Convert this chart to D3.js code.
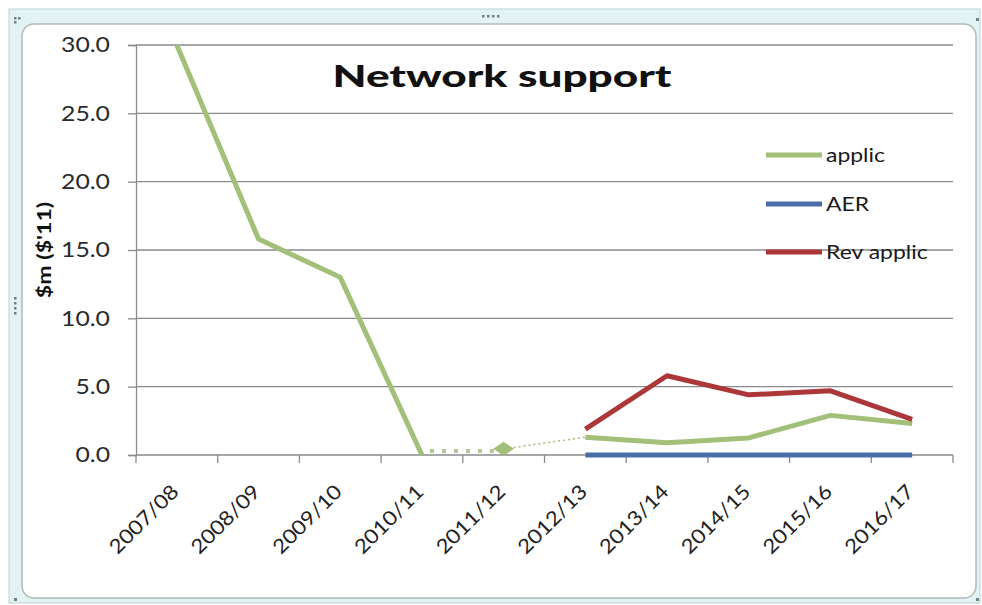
<!DOCTYPE html>
<html>
<head>
<meta charset="utf-8">
<script src="https://cdn.jsdelivr.net/npm/d3@7"></script>
<style>
  html, body { margin: 0; padding: 0; background: #ffffff; }
  svg { display: block; }
  text { font-family: Lato, "Open Sans", "DejaVu Sans", sans-serif; }
</style>
</head>
<body>
<svg id="chart" width="982" height="605"></svg>
<script>
// Financial years on the category axis
const categories = ['2007/08', '2008/09', '2009/10', '2010/11', '2011/12',
                    '2012/13', '2013/14', '2014/15', '2015/16', '2016/17'];

// Network support spend, $m ($'11)
const applic    = [30.0, 15.8, 13.0, 0.0, null, 1.3, 0.9, 1.25, 2.9, 2.3];
const aer       = [null, null, null, null, null, 0.0, 0.0, 0.0, 0.0, 0.0];
const revApplic = [null, null, null, null, null, 1.9, 5.8, 4.4, 4.7, 2.6];

// Estimated 2011/12 value and the dotted links either side of it
const estimate    = [null, null, null, null, 0.45, null, null, null, null, null];
const bridgeLeft  = [null, null, null, 0.3, 0.3, null, null, null, null, null];
const bridgeRight = [null, null, null, null, 0.45, 1.3, null, null, null, null];

const yTicks = [0, 5, 10, 15, 20, 25, 30];

const series = [
  { name: 'applic',     values: applic,    color: '#a2c07a' },
  { name: 'AER',        values: aer,       color: '#4a6fa8' },
  { name: 'Rev applic', values: revApplic, color: '#ac3739' }
];

// Widen glyphs horizontally by factor k (the chart's fonts are drawn stretched)
function stretch(sel, k) {
  sel.each(function () {
    const len = this.getComputedTextLength();
    d3.select(this).attr('textLength', len * k).attr('lengthAdjust', 'spacingAndGlyphs');
  });
}

const svg = d3.select('#chart');

// Worksheet frame and chart area
svg.append('rect').attr('x', 9).attr('y', 9).attr('width', 971).attr('height', 594)
  .attr('fill', '#e3f2f2').attr('stroke', '#bcd3d3');
svg.append('rect').attr('x', 22).attr('y', 24).attr('width', 954).attr('height', 574)
  .attr('rx', 12).attr('ry', 12)
  .attr('fill', '#ffffff').attr('stroke', '#b0baba').attr('stroke-width', 1.5);

// Resize handles
const handleG = svg.append('g').attr('fill', '#6f7f86');
[482, 487, 492, 497].forEach(x => handleG.append('rect').attr('x', x).attr('y', 15).attr('width', 2.5).attr('height', 2.5));
[297, 302, 307, 312].forEach(y => handleG.append('rect').attr('x', 14).attr('y', y).attr('width', 2.5).attr('height', 2.5));
[[14, 17], [18, 17], [14, 21]].forEach(([x, y]) => handleG.append('rect').attr('x', x).attr('y', y).attr('width', 2.5).attr('height', 2.5));
[[976, 18], [976, 598], [14, 598]].forEach(([x, y]) => handleG.append('rect').attr('x', x).attr('y', y).attr('width', 3).attr('height', 3));

const plot = { left: 136, right: 953, top: 45, bottom: 455 };

const x = d3.scaleBand().domain(categories).range([plot.left, plot.right]).paddingInner(0).paddingOuter(0);
const y = d3.scaleLinear().domain([0, 30]).range([plot.bottom, plot.top]);
const cx = c => x(c) + x.bandwidth() / 2;

// Horizontal gridlines
svg.append('g').selectAll('line').data(yTicks.filter(t => t > 0)).join('line')
  .attr('x1', plot.left).attr('x2', plot.right)
  .attr('y1', d => y(d)).attr('y2', d => y(d))
  .attr('stroke', '#8a8a8a').attr('stroke-width', 1.3);

// Y axis
const yAxis = svg.append('g').attr('transform', `translate(${plot.left},0)`)
  .call(d3.axisLeft(y).tickValues(yTicks).tickFormat(d3.format('.1f')).tickSize(8).tickPadding(18));
yAxis.select('.domain').attr('stroke', '#8a8a8a').attr('stroke-width', 1.3);
yAxis.selectAll('.tick line').attr('stroke', '#8a8a8a').attr('stroke-width', 1.3);
yAxis.selectAll('.tick text').attr('font-size', 21).attr('fill', '#2b2b2b')
  .attr('font-family', 'Lato, "Open Sans", sans-serif');
stretch(yAxis.selectAll('.tick text'), 1.18);

// X axis with ticks on category boundaries
const xAxisG = svg.append('g').attr('transform', `translate(0,${plot.bottom})`);
xAxisG.append('line').attr('x1', plot.left).attr('x2', plot.right)
  .attr('stroke', '#8a8a8a').attr('stroke-width', 1.3);
const boundaries = categories.map(c => x(c)).concat([plot.right]);
xAxisG.selectAll('line.tk').data(boundaries).join('line').attr('class', 'tk')
  .attr('x1', d => d).attr('x2', d => d).attr('y1', 0).attr('y2', 8)
  .attr('stroke', '#8a8a8a').attr('stroke-width', 1.3);
const xLabels = xAxisG.selectAll('text').data(categories).join('text')
  .attr('transform', d => `translate(${cx(d) + 3},${38}) rotate(-45)`)
  .attr('text-anchor', 'end')
  .attr('font-size', 20).attr('fill', '#222')
  .text(d => d);
stretch(xLabels, 1.12);

// Axis title
const yTitle = svg.append('text')
  .attr('transform', 'translate(51,250) rotate(-90)')
  .attr('text-anchor', 'middle')
  .attr('font-size', 19).attr('font-weight', 'bold').attr('fill', '#111')
  .text("$m ($'11)");
stretch(yTitle, 1.22);

// Chart title
const title = svg.append('text')
  .attr('x', 502).attr('y', 87)
  .attr('text-anchor', 'middle')
  .attr('font-size', 31).attr('font-weight', 900).attr('fill', '#111')
  .text('Network support');
title.attr('textLength', 339).attr('lengthAdjust', 'spacingAndGlyphs');

const line = d3.line()
  .defined(d => d.v !== null)
  .x(d => cx(d.c))
  .y(d => y(d.v));
const pts = vals => categories.map((c, i) => ({ c, v: vals[i] }));

// Dotted links around the 2011/12 estimate
svg.append('path').datum(pts(bridgeLeft))
  .attr('d', line).attr('fill', 'none')
  .attr('stroke', '#b3c79a').attr('stroke-width', 4).attr('stroke-dasharray', '4 8')
  .attr('stroke-dashoffset', -8);
svg.append('path').datum(pts(bridgeRight))
  .attr('d', line).attr('fill', 'none')
  .attr('stroke', '#a2c07a').attr('stroke-width', 1.5).attr('stroke-dasharray', '2 3');

// Series lines
series.forEach(s => {
  svg.append('path').datum(pts(s.values))
    .attr('d', line).attr('fill', 'none')
    .attr('stroke', s.color).attr('stroke-width', 5)
    .attr('stroke-linejoin', 'round').attr('stroke-linecap', 'butt');
});

// Estimate marker: a flattened diamond
const flatDiamond = {
  draw(ctx, size) {
    const w = Math.sqrt(size) * 0.7, h = w * 0.68;
    ctx.moveTo(0, -h); ctx.lineTo(w, 0); ctx.lineTo(0, h); ctx.lineTo(-w, 0); ctx.closePath();
  }
};
svg.append('g').selectAll('path').data(pts(estimate).filter(d => d.v !== null)).join('path')
  .attr('transform', d => `translate(${cx(d.c)},${y(d.v)})`)
  .attr('d', d3.symbol().type(flatDiamond).size(220))
  .attr('fill', '#a2c07a');

// Legend
const legend = svg.append('g');
const legendY = [155, 204, 252];
series.forEach((s, i) => {
  legend.append('line')
    .attr('x1', 766).attr('x2', 822).attr('y1', legendY[i]).attr('y2', legendY[i])
    .attr('stroke', s.color).attr('stroke-width', 5);
  const t = legend.append('text')
    .attr('x', 826).attr('y', legendY[i]).attr('dy', '0.36em')
    .attr('font-size', 18.5).attr('fill', '#1a1a1a')
    .text(s.name);
  stretch(t, 1.24);
});
</script>
</body>
</html>
